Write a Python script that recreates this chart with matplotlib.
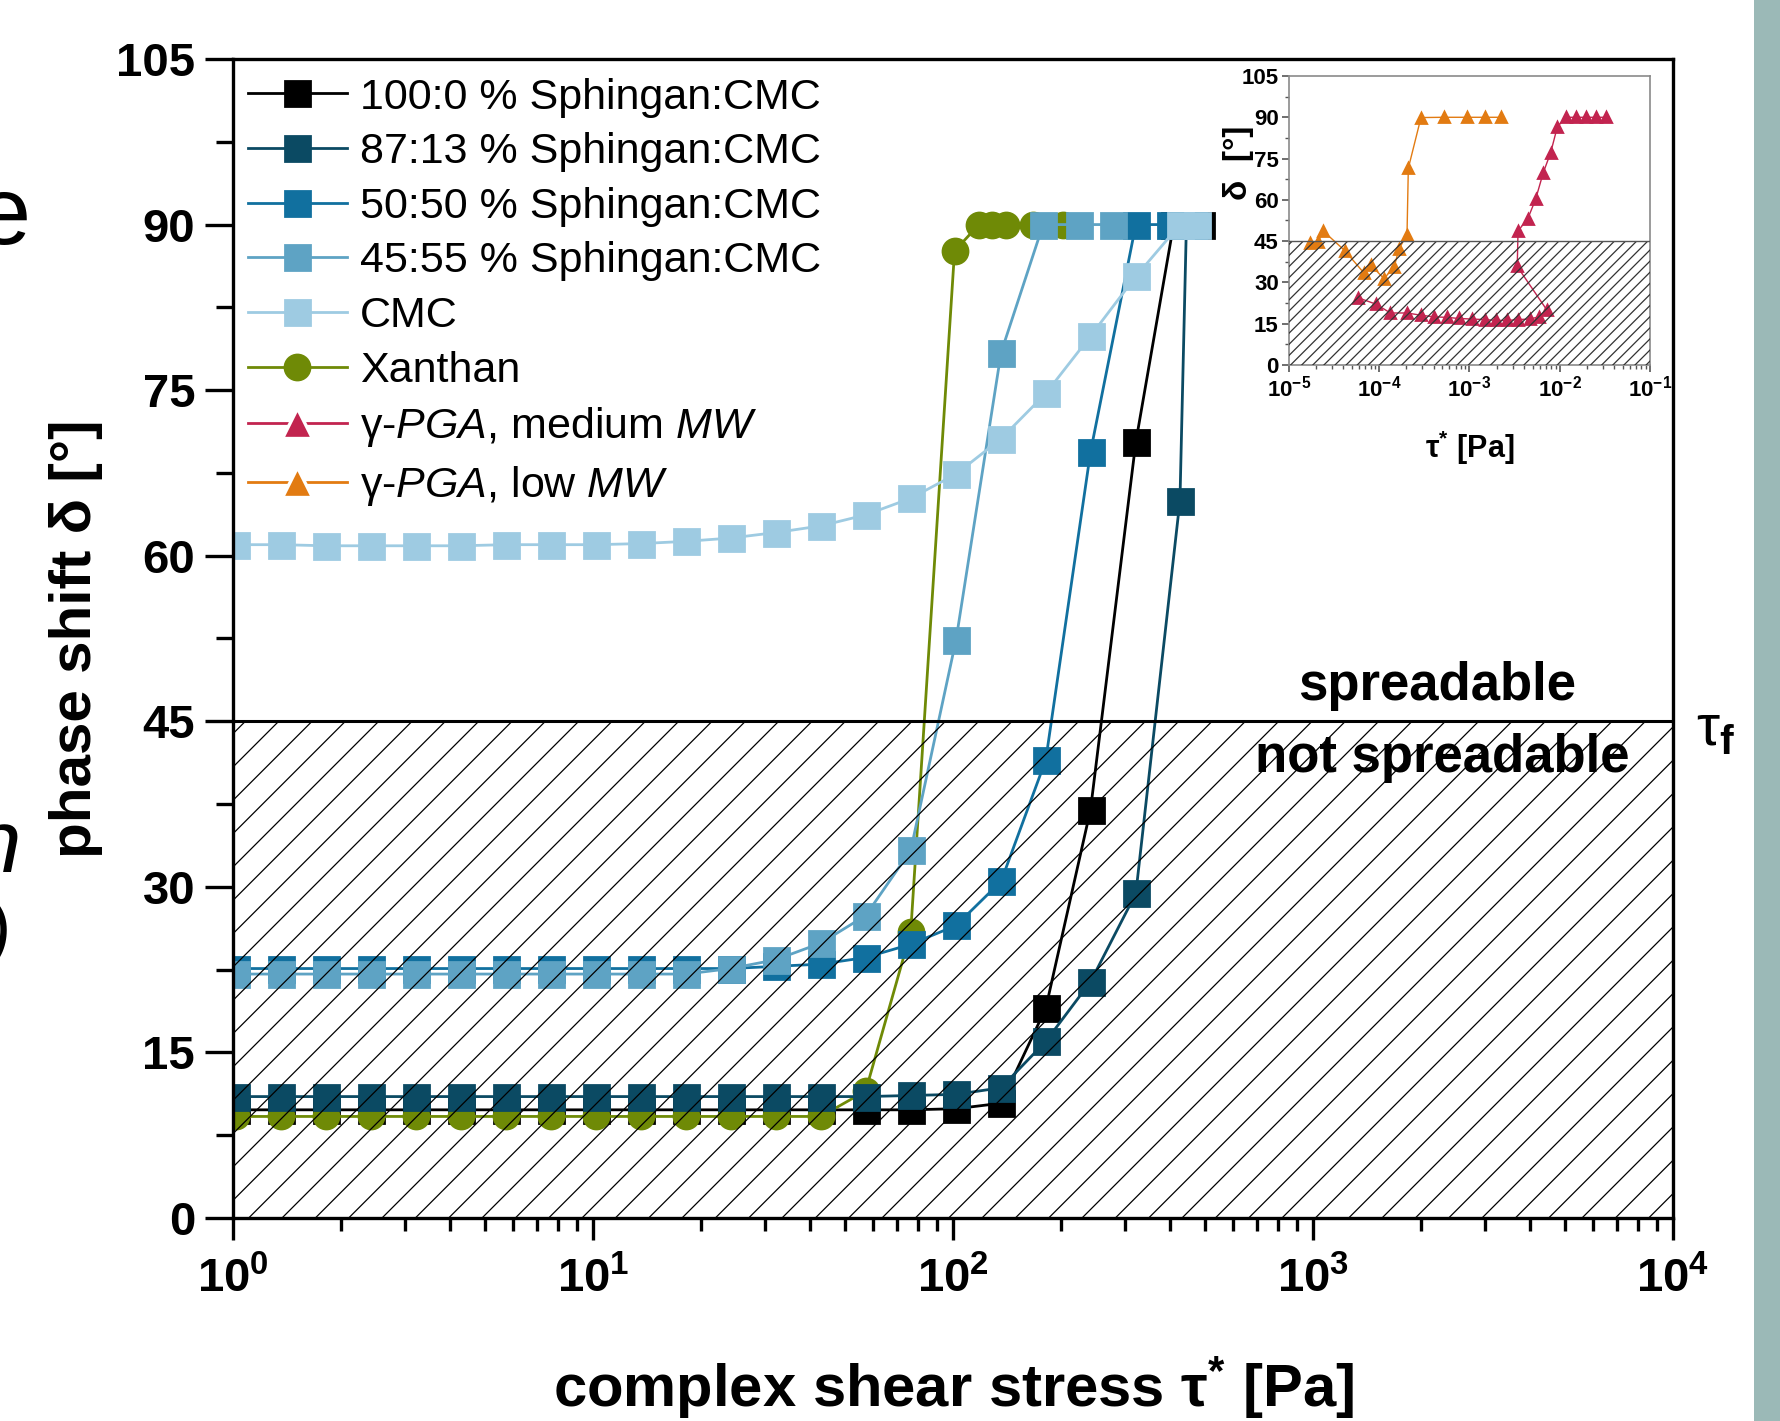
import math
import matplotlib
matplotlib.use('Agg')
import matplotlib.pyplot as plt
from matplotlib.patches import Rectangle
from matplotlib.lines import Line2D
from matplotlib.ticker import MultipleLocator, LogLocator, NullFormatter, FuncFormatter

plt.rcParams['font.family'] = ['Liberation Sans', 'DejaVu Sans']
plt.rcParams['mathtext.fontset'] = 'custom'
plt.rcParams['mathtext.rm'] = 'Liberation Sans'
plt.rcParams['mathtext.it'] = 'Liberation Sans:italic'
plt.rcParams['mathtext.bf'] = 'Liberation Sans:bold'
plt.rcParams['hatch.linewidth'] = 0.45

# ---------------- data (main plot) ----------------
x_100_0 = [1.02, 1.36, 1.81, 2.41, 3.22, 4.29, 5.72, 7.63, 10.2, 13.6, 18.1, 24.1, 32.2, 42.9,
           57.2, 76.3, 102, 136, 181, 241, 322, 410, 490]
y_100_0 = [9.8, 9.8, 9.8, 9.8, 9.8, 9.8, 9.8, 9.8, 9.8, 9.8, 9.8, 9.8, 9.8, 9.8,
           9.8, 9.8, 9.9, 10.4, 19.0, 37.0, 70.3, 90.0, 90.0]

x_87_13 = [1.02, 1.36, 1.81, 2.41, 3.22, 4.29, 5.72, 7.63, 10.2, 13.6, 18.1, 24.1, 32.2, 42.9,
           57.2, 76.3, 102, 136, 181, 241, 322, 427, 445]
y_87_13 = [11.0, 11.0, 11.0, 11.0, 11.0, 11.0, 11.0, 11.0, 11.0, 11.0, 11.0, 11.0, 11.0, 11.0,
           11.0, 11.1, 11.2, 11.8, 16.0, 21.4, 29.4, 65.0, 90.0]

x_50_50 = [1.02, 1.36, 1.81, 2.41, 3.22, 4.29, 5.72, 7.63, 10.2, 13.6, 18.1, 24.1, 32.2, 42.9,
           57.2, 76.3, 102, 136, 181, 241, 322, 401, 463]
y_50_50 = [22.6, 22.6, 22.6, 22.6, 22.6, 22.6, 22.6, 22.6, 22.6, 22.6, 22.6, 22.6, 22.8, 23.0,
           23.6, 24.8, 26.5, 30.5, 41.5, 69.4, 90.0, 90.0, 90.0]

x_45_55 = [1.02, 1.36, 1.81, 2.41, 3.22, 4.29, 5.72, 7.63, 10.2, 13.6, 18.1, 24.1, 32.2, 42.9,
           57.2, 76.3, 102, 136, 178, 224, 279]
y_45_55 = [22.1, 22.1, 22.1, 22.1, 22.1, 22.1, 22.1, 22.1, 22.1, 22.1, 22.1, 22.6, 23.4, 24.9,
           27.4, 33.3, 52.4, 78.4, 90.0, 90.0, 90.0]

x_cmc = [1.02, 1.36, 1.81, 2.41, 3.22, 4.29, 5.72, 7.63, 10.2, 13.6, 18.1, 24.1, 32.2, 42.9,
         57.2, 76.3, 102, 136, 181, 241, 322, 427, 477]
y_cmc = [61.0, 61.0, 60.9, 60.9, 60.9, 60.9, 61.0, 61.0, 61.0, 61.1, 61.3, 61.6, 62.1, 62.7,
         63.7, 65.2, 67.4, 70.6, 74.7, 79.9, 85.3, 90.0, 90.0]

x_xan = [1.02, 1.36, 1.81, 2.41, 3.22, 4.29, 5.72, 7.63, 10.2, 13.6, 18.1, 24.1, 32.2, 42.9,
         57.2, 76.3, 101, 118, 128, 140, 167, 202]
y_xan = [9.2, 9.2, 9.2, 9.2, 9.2, 9.2, 9.2, 9.2, 9.2, 9.2, 9.2, 9.2, 9.2, 9.2,
         11.5, 25.9, 87.6, 90.0, 90.0, 90.0, 90.0, 90.0]

# ---------------- data (inset) ----------------
x_pga_low = [1.71e-5, 2.11e-5, 2.39e-5, 4.14e-5, 6.78e-5, 8.04e-5, 1.13e-4, 1.46e-4, 1.66e-4,
             2.03e-4, 2.10e-4, 2.9e-4, 5.16e-4, 9.3e-4, 1.5e-3, 2.24e-3]
y_pga_low = [44.3, 44.8, 48.7, 41.6, 33.4, 36.3, 31.4, 35.6, 42.3, 47.3, 71.5, 89.9, 90, 90, 90, 90]

x_pga_med = [5.87e-5, 9.2e-5, 1.33e-4, 2.03e-4, 2.88e-4, 4.05e-4, 5.65e-4, 7.68e-4, 1.06e-3,
             1.47e-3, 1.99e-3, 2.63e-3, 3.47e-3, 4.63e-3, 5.9e-3, 7.19e-3, 3.38e-3, 3.45e-3,
             4.43e-3, 5.4e-3, 6.57e-3, 7.94e-3, 9.42e-3, 1.18e-2, 1.51e-2, 1.95e-2, 2.5e-2, 3.25e-2]
y_pga_med = [24.4, 22.1, 18.9, 18.9, 18.1, 17.5, 17.3, 16.9, 16.7, 16.5, 16.2, 16.2, 16.5, 16.7,
             17.5, 20.0, 35.8, 48.7, 53.2, 60.2, 69.9, 77.2, 86.6, 90, 90, 90, 90, 90]

labels = ['100:0 % Sphingan:CMC', '87:13 % Sphingan:CMC', '50:50 % Sphingan:CMC',
          '45:55 % Sphingan:CMC', 'CMC', 'Xanthan',
          r'γ-$\mathit{PGA}$, medium $\mathit{MW}$', r'γ-$\mathit{PGA}$, low $\mathit{MW}$']
y_ticks = [0, 15, 30, 45, 60, 75, 90, 105]
threshold = 45

c_black = '#000000'
c_navy = '#0b4a63'
c_5050 = '#11709f'
c_4555 = '#5ea3c4'
c_cmc = '#9ecbe2'
c_xan = '#6f8a06'
c_med = '#c2244f'
c_low = '#e27b12'

W, H, DPI = 1781, 1421, 200
fig = plt.figure(figsize=(W / DPI, H / DPI), dpi=DPI)
fig.patch.set_facecolor('white')

ax = fig.add_axes([233 / W, 1 - 1218 / H, 1440 / W, 1159 / H])
ax.set_xscale('log')
ax.set_xlim(1, 1e4)
ax.set_ylim(0, 105)

lw = 1.0
ms = 9
ax.plot(x_xan, y_xan, '-o', color=c_xan, lw=lw, ms=ms, zorder=2.0)
ax.plot(x_100_0, y_100_0, '-s', color=c_black, lw=lw, ms=ms, zorder=1.9)
ax.plot(x_87_13, y_87_13, '-s', color=c_navy, lw=lw, ms=ms, zorder=2.1)
ax.plot(x_50_50, y_50_50, '-s', color=c_5050, lw=lw, ms=ms, zorder=2.2)
ax.plot(x_45_55, y_45_55, '-s', color=c_4555, lw=lw, ms=ms, zorder=2.3)
ax.plot(x_cmc, y_cmc, '-s', color=c_cmc, lw=lw, ms=ms, zorder=2.4)

# not-spreadable hatched zone
ax.axhspan(0, threshold, facecolor='none', edgecolor='black', hatch='//', linewidth=0, zorder=3.5)
ax.axhline(threshold, color='black', lw=1.1, zorder=3.6)

ax.text(0.836, 0.459, 'spreadable', transform=ax.transAxes, ha='center', va='center',
        fontsize=19, fontweight='bold', zorder=4)
ax.text(0.84, 0.397, 'not spreadable', transform=ax.transAxes, ha='center', va='center',
        fontsize=19, fontweight='bold', zorder=3)
ax.text(1.016, 0.421, r'τ$_{\mathbf{f}}$', transform=ax.transAxes, ha='left', va='center',
        fontsize=21)

for s in ax.spines.values():
    s.set_linewidth(1.2)
ax.set_yticks(y_ticks)
ax.yaxis.set_minor_locator(MultipleLocator(7.5))
ax.xaxis.set_major_locator(LogLocator(base=10, numticks=10))
ax.xaxis.set_minor_locator(LogLocator(base=10, subs=range(2, 10), numticks=50))
ax.xaxis.set_minor_formatter(NullFormatter())
ax.xaxis.set_major_formatter(FuncFormatter(lambda v, p: r'$\mathbf{10^{%d}}$' % round(math.log10(v))))
ax.tick_params(axis='y', which='major', direction='out', length=10, width=1.2, pad=3.6, labelsize=17)
ax.tick_params(axis='y', which='minor', direction='out', length=6, width=1.2)
ax.tick_params(axis='x', which='major', direction='out', length=8, width=1.2, pad=6, labelsize=17)
ax.tick_params(axis='x', which='minor', direction='out', length=4.5, width=1.2)
ax.tick_params(top=False, right=False, which='both')
for t in ax.get_yticklabels():
    t.set_fontweight('bold')

ax.set_ylabel('phase shift δ [°]', fontsize=21, fontweight='bold')
ax.yaxis.set_label_coords(-0.09, 0.5)
ax.set_xlabel(r'complex shear stress τ$^{\mathbf{*}}$ [Pa]', fontsize=21.5, fontweight='bold')
ax.xaxis.set_label_coords(0.5, -0.117)

handles = [
    Line2D([], [], color=c_black, marker='s', lw=lw, ms=ms),
    Line2D([], [], color=c_navy, marker='s', lw=lw, ms=ms),
    Line2D([], [], color=c_5050, marker='s', lw=lw, ms=ms),
    Line2D([], [], color=c_4555, marker='s', lw=lw, ms=ms),
    Line2D([], [], color=c_cmc, marker='s', lw=lw, ms=ms),
    Line2D([], [], color=c_xan, marker='o', lw=lw, ms=ms),
    Line2D([], [], color=c_med, marker='^', lw=lw, ms=11, mec='white', mew=1.2, mfc=c_med),
    Line2D([], [], color=c_low, marker='^', lw=lw, ms=11, mec='white', mew=1.2, mfc=c_low),
]
leg = ax.legend(handles, labels, loc='upper left', bbox_to_anchor=(0.0104, 0.984),
                frameon=False, fontsize=15.5, handlelength=2.3, handletextpad=0.3,
                labelspacing=0.34, borderaxespad=0, borderpad=0)
leg.set_zorder(6)

# ---------------- inset ----------------
axi = fig.add_axes([1289 / W, 1 - 365 / H, 361 / W, 289 / H])
axi.set_xscale('log')
axi.set_xlim(1e-5, 1e-1)
axi.set_ylim(0, 105)
axi.plot(x_pga_low, y_pga_low, '-^', color=c_low, lw=0.5, ms=3.6, zorder=2)
axi.plot(x_pga_med, y_pga_med, '-^', color=c_med, lw=0.5, ms=3.6, zorder=2)
axi.axhspan(0, threshold, facecolor='none', edgecolor='#333333', hatch='//////', linewidth=0, zorder=3)
axi.axhline(threshold, color='#555555', lw=0.5, zorder=3)
for s in axi.spines.values():
    s.set_linewidth(0.6)
    s.set_color('#8a8a8a')
axi.set_yticks(y_ticks)
axi.yaxis.set_minor_locator(MultipleLocator(7.5))
axi.xaxis.set_major_locator(LogLocator(base=10, numticks=10))
axi.xaxis.set_minor_locator(LogLocator(base=10, subs=range(2, 10), numticks=50))
axi.xaxis.set_minor_formatter(NullFormatter())
axi.xaxis.set_major_formatter(FuncFormatter(lambda v, p: r'$\mathbf{10^{%d}}$' % round(math.log10(v))))
axi.tick_params(which='major', direction='out', length=2.5, width=0.6, color='#555555', labelsize=8, pad=1.2)
axi.tick_params(which='minor', direction='out', length=1.5, width=0.5, color='#555555')
axi.tick_params(top=False, right=False, which='both')
for t in axi.get_yticklabels():
    t.set_fontweight('bold')
axi.set_ylabel('δ  [°]', fontsize=12, fontweight='bold')
axi.yaxis.set_label_coords(-0.098, 0.70)
axi.set_xlabel(r'τ$^{\mathbf{*}}$ [Pa]', fontsize=11, fontweight='bold')
axi.xaxis.set_label_coords(0.5, -0.22)

# cut-off fragments of neighbouring text at the left edge
fig.text(-0.013, 1 - 244 / H, 'e', fontsize=35)
fig.text(-0.016, 1 - 872 / H, 'n', fontsize=32, style='italic')
fig.text(-0.008, 1 - 958 / H, ')', fontsize=26, style='italic')

# coloured side band at the right edge
fig.patches.append(Rectangle((1754 / W, 0), 27 / W, 1, transform=fig.transFigure,
                             facecolor='#9bb9b7', edgecolor='none', zorder=0))

fig.savefig('out.png', dpi=DPI)
